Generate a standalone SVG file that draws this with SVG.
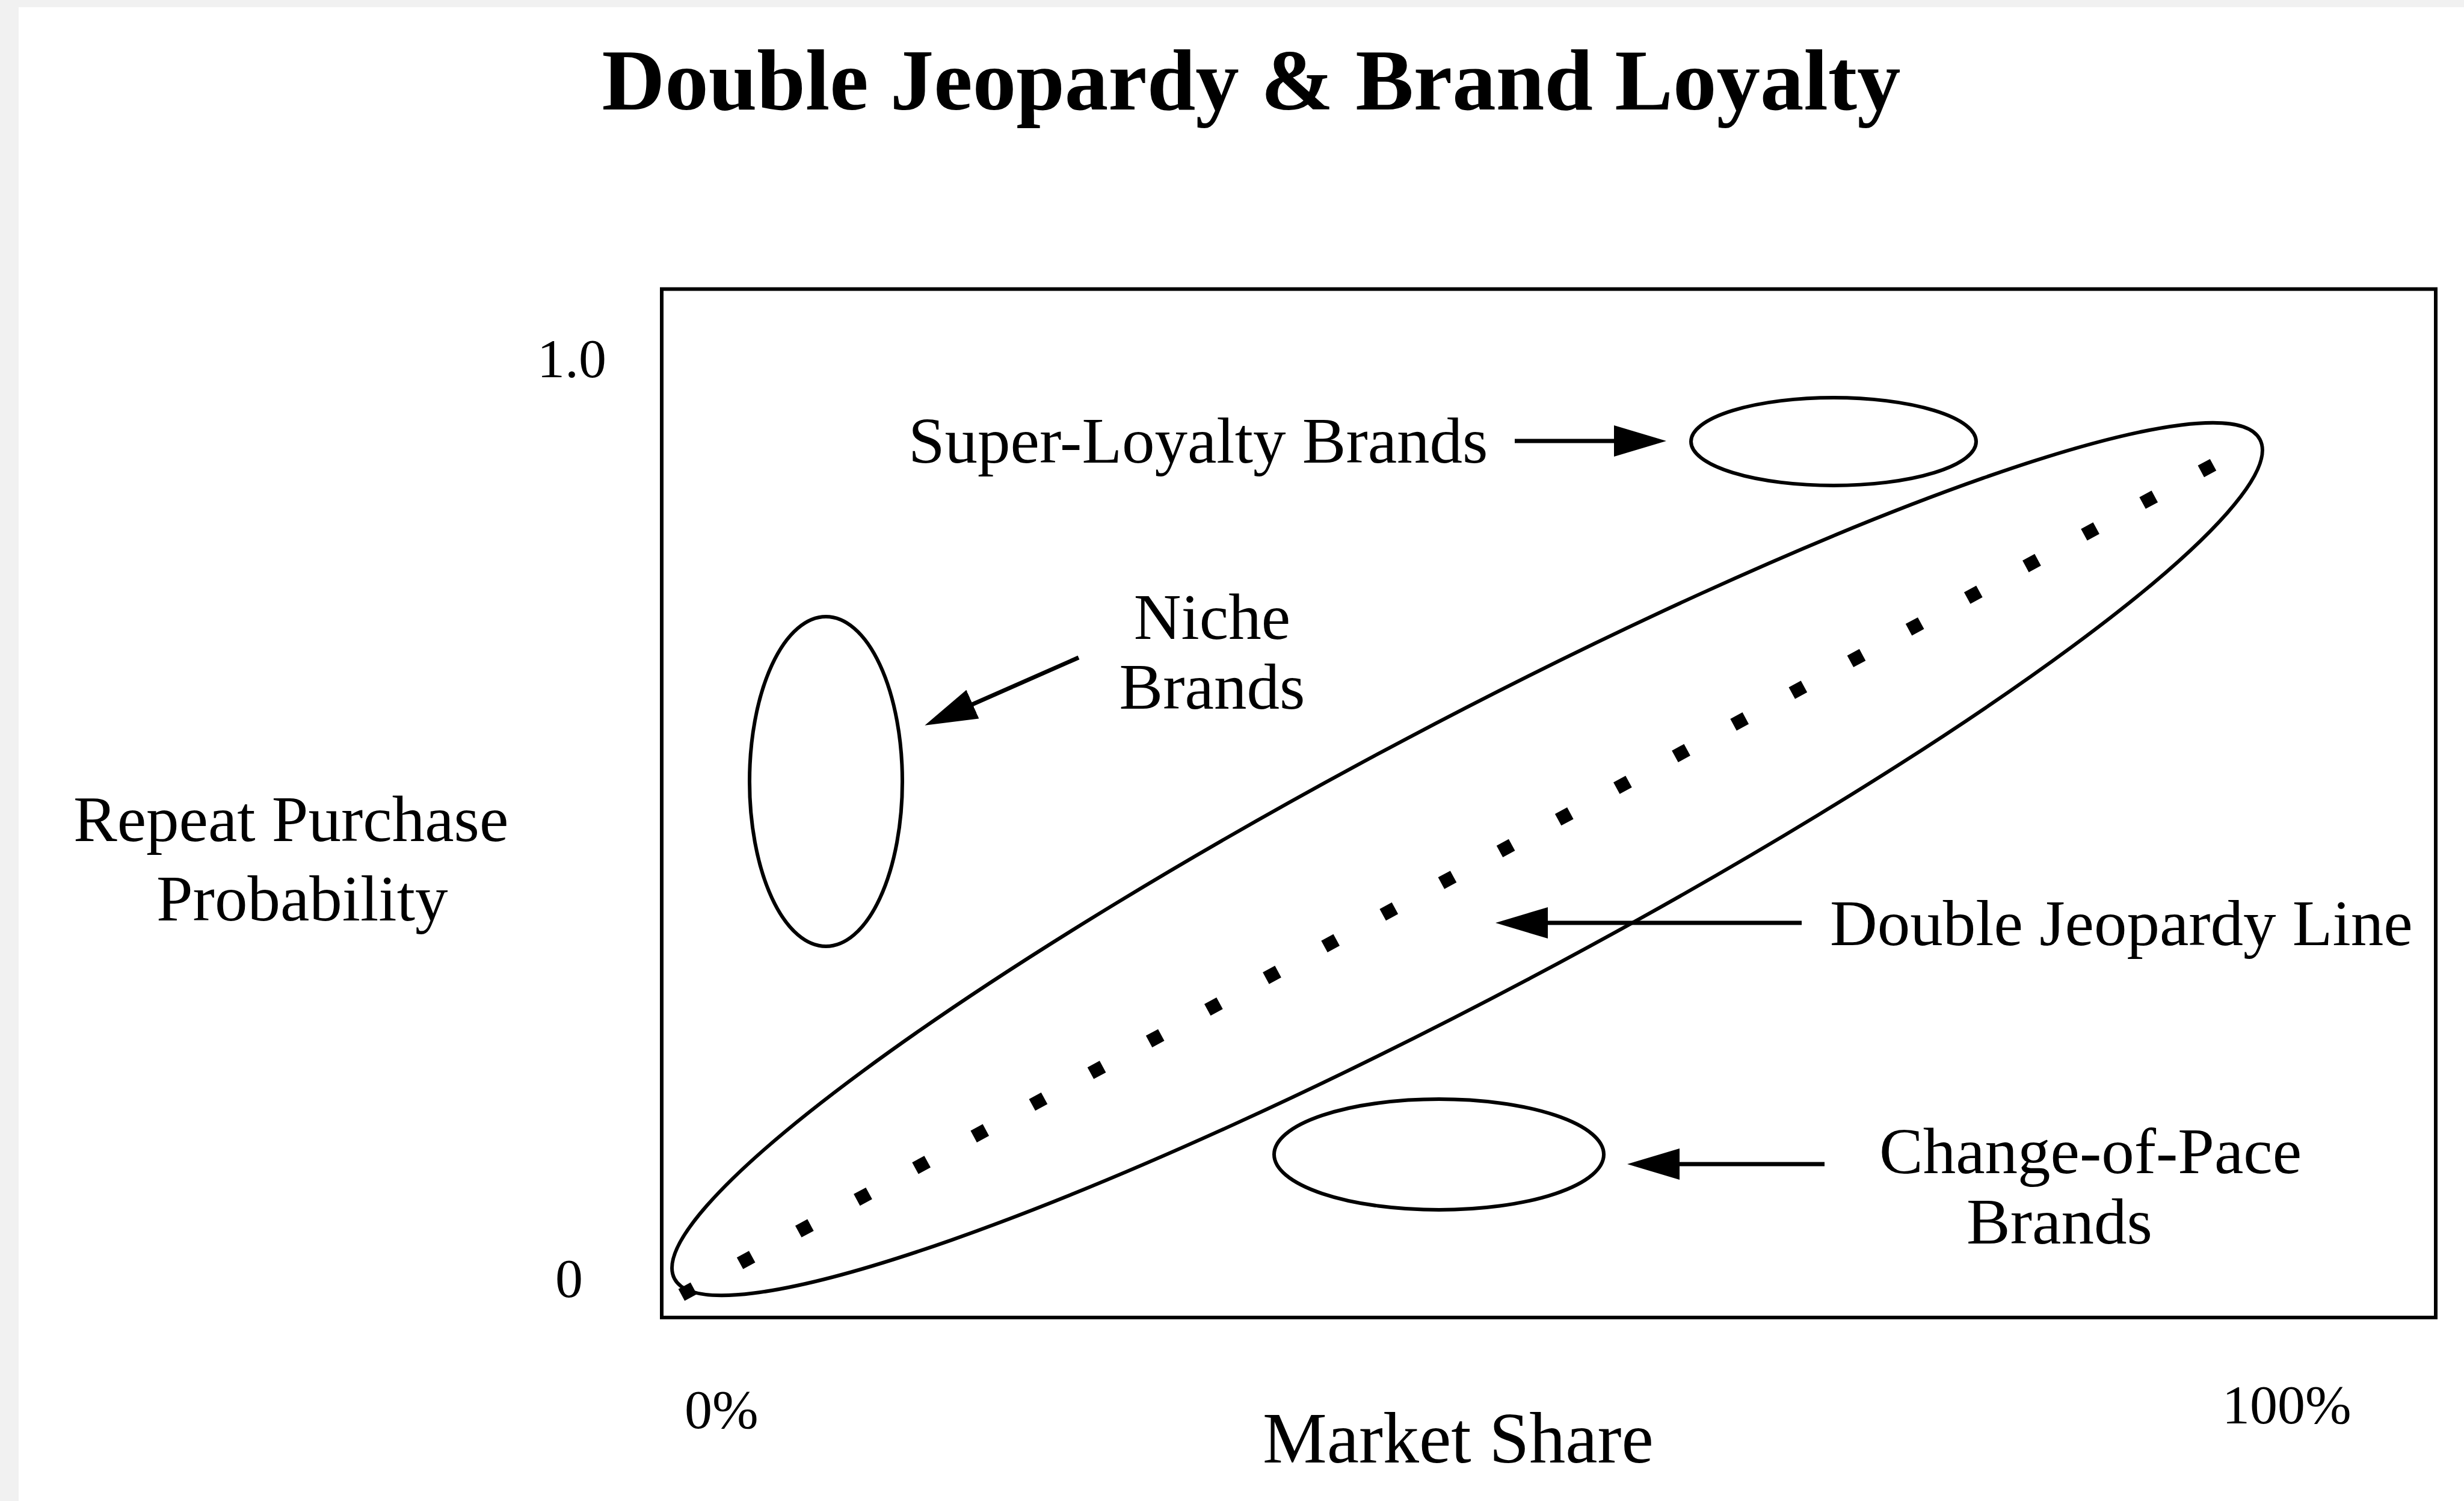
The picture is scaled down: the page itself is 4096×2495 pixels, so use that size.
<svg xmlns="http://www.w3.org/2000/svg" width="4096" height="2495" viewBox="0 0 4096 2495">
  <defs>
    <style>
      .lbl { font-family: "Liberation Serif", "Times New Roman", serif; font-size: 109px; fill: #000; }
      .tick { font-family: "Liberation Serif", "Times New Roman", serif; font-size: 92px; fill: #000; }
      .title { font-family: "Liberation Serif", "Times New Roman", serif; font-size: 145px; font-weight: bold; fill: #000; }
      .shape { fill: none; stroke: #000; stroke-width: 6; }
      .arrow { fill: none; stroke: #000; stroke-width: 7; }
    </style>
    <marker id="head" viewBox="0 -26 87 52" refX="1" refY="0" markerWidth="87" markerHeight="52" markerUnits="userSpaceOnUse" orient="auto">
      <path d="M0,-26 L87,0 L0,26 Z" fill="#000"/>
    </marker>
  </defs>

  <!-- page -->
  <rect x="0" y="0" width="4096" height="2495" fill="#f1f1f1"/>
  <rect x="31" y="12" width="4065" height="2483" fill="#ffffff"/>

  <g id="title">
    <text class="title" x="2080" y="182" text-anchor="middle">Double Jeopardy &amp; Brand Loyalty</text>
  </g>

  <!-- plot frame -->
  <g id="plot-frame">
    <rect x="1100" y="480.5" width="2949" height="1709.5" fill="none" stroke="#000" stroke-width="6"/>
  </g>

  <!-- axis labels -->
  <g id="y-axis">
    <text class="tick" x="893" y="627">1.0</text>
    <text class="tick" x="923" y="2156">0</text>
    <text class="lbl" x="122" y="1398">Repeat Purchase</text>
    <text class="lbl" x="260" y="1530">Probability</text>
  </g>
  <g id="x-axis">
    <text class="tick" x="1138" y="2374">0%</text>
    <text class="tick" x="3694" y="2366">100%</text>
    <text class="lbl" x="2099" y="2431" style="font-size:120px">Market Share</text>
  </g>

  <!-- brand regions -->
  <g id="double-jeopardy-band">
    <ellipse class="shape" cx="0" cy="0" rx="1491" ry="224" transform="translate(2439 1428) rotate(-27.9)"/>
  </g>
  <g id="double-jeopardy-line">
    <line x1="1132.9" y1="2152.5" x2="3679.1" y2="772.5" stroke="#000" stroke-width="22" stroke-dasharray="23 87.5" stroke-linecap="butt"/>
  </g>
  <g id="super-loyalty">
    <ellipse class="shape" cx="3048" cy="734" rx="237" ry="73"/>
    <text class="lbl" x="1510" y="769">Super-Loyalty Brands</text>
  </g>
  <g id="niche">
    <ellipse class="shape" cx="1373" cy="1299" rx="127" ry="274"/>
    <text class="lbl" x="2015" y="1062" text-anchor="middle">Niche</text>
    <text class="lbl" x="2015" y="1178" text-anchor="middle">Brands</text>
  </g>
  <g id="change-of-pace">
    <ellipse class="shape" cx="2392" cy="1919" rx="274" ry="92"/>
    <text class="lbl" x="3124" y="1950">Change-of-Pace</text>
    <text class="lbl" x="3269" y="2067">Brands</text>
  </g>
  <g id="dj-line-label">
    <text class="lbl" x="3042" y="1571">Double Jeopardy Line</text>
  </g>

  <!-- pointer arrows -->
  <g id="connectors">
    <line class="arrow" x1="2518" y1="733" x2="2684" y2="733" marker-end="url(#head)"/>
    <line class="arrow" x1="1793" y1="1093" x2="1616" y2="1171" marker-end="url(#head)"/>
    <line class="arrow" x1="2995" y1="1534" x2="2572" y2="1534" marker-end="url(#head)"/>
    <line class="arrow" x1="3033" y1="1935" x2="2791" y2="1935" marker-end="url(#head)"/>
  </g>
</svg>
